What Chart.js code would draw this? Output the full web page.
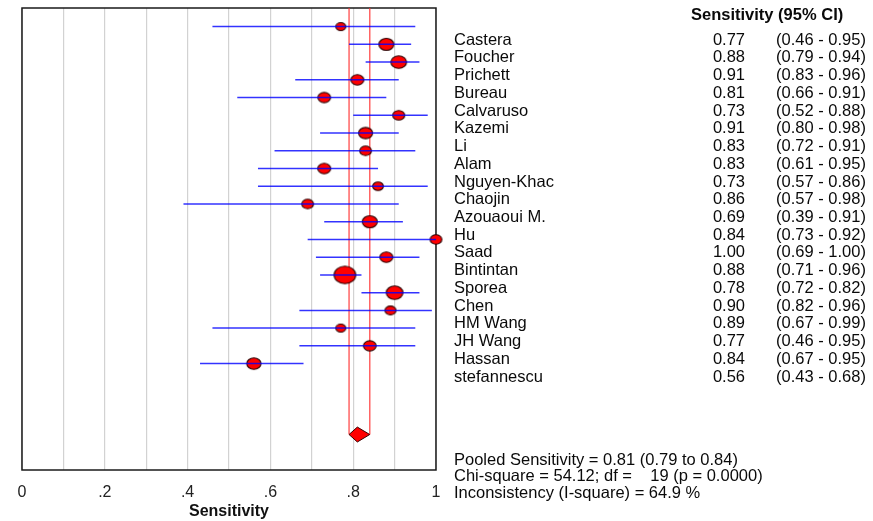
<!DOCTYPE html>
<html>
<head>
<meta charset="utf-8">
<script src="https://cdn.jsdelivr.net/npm/chart.js@4.4.0/dist/chart.umd.min.js"></script>
<style>
	body { margin: 0; background: #fff; }
	#wrap { position: relative; width: 873px; height: 521px; }
	#forest { position: absolute; left: 0; top: 0; }
	.t { position: absolute; font-family: "Liberation Sans", Arial, sans-serif; font-size: 16.5px; line-height: 18px; color: #0a0a0a; white-space: pre; }
	.b { font-weight: bold; }
	.r { text-align: right; }
</style>
</head>
<body>
<div id="wrap"><canvas id="forest" width="873" height="521"></canvas></div>
<script>
const studies = ["Castera", "Foucher", "Prichett", "Bureau", "Calvaruso", "Kazemi", "Li", "Alam", "Nguyen-Khac", "Chaojin",
	"Azouaoui M.", "Hu", "Saad", "Bintintan", "Sporea", "Chen", "HM Wang", "JH Wang", "Hassan", "stefannescu"];
const sensitivity = [0.77, 0.88, 0.91, 0.81, 0.73, 0.91, 0.83, 0.83, 0.73, 0.86, 0.69, 0.84, 1.00, 0.88, 0.78, 0.90, 0.89, 0.77, 0.84, 0.56];
const ciLow = [0.46, 0.79, 0.83, 0.66, 0.52, 0.80, 0.72, 0.61, 0.57, 0.57, 0.39, 0.73, 0.69, 0.71, 0.72, 0.82, 0.67, 0.46, 0.67, 0.43];
const ciHigh = [0.95, 0.94, 0.96, 0.91, 0.88, 0.98, 0.91, 0.95, 0.86, 0.98, 0.91, 0.92, 1.00, 0.96, 0.82, 0.96, 0.99, 0.95, 0.95, 0.68];
// relative study weight, shown as marker size
const weight = [10, 15, 15.7, 13, 12.7, 12, 14, 11.7, 13, 10.7, 11.7, 15, 11.7, 13, 21.7, 16.7, 11, 10, 12.7, 14.3];

const pooled = 0.81, pooledLow = 0.79, pooledHigh = 0.84;
const xTickLabels = ["0", ".2", ".4", ".6", ".8", "1"];
const summaryLines = [
	"Pooled Sensitivity = 0.81 (0.79 to 0.84)",
	"Chi-square = 54.12; df =    19 (p = 0.0000)",
	"Inconsistency (I-square) = 64.9 %"
];

const FONT = "'Liberation Sans', Arial, sans-serif";
const yMin = -0.05, yMax = 26, pooledRow = 24;

// ellipse markers
const markers = weight.map((w) => {
	const h = w * 0.8;
	const c = document.createElement("canvas");
	c.width = Math.ceil(w + 3);
	c.height = Math.ceil(h + 3);
	const g = c.getContext("2d");
	g.beginPath();
	g.ellipse(c.width / 2, c.height / 2, w / 2, h / 2, 0, 0, Math.PI * 2);
	g.fillStyle = "#ff0000";
	g.fill();
	g.lineWidth = 1.1;
	g.strokeStyle = "#2a0000";
	g.stroke();
	return c;
});

const ciData = [];
studies.forEach((s, i) => {
	ciData.push({ x: ciLow[i], y: i + 1 }, { x: ciHigh[i], y: i + 1 }, { x: null, y: null });
});

const frame = {
	id: "frame",
	beforeDatasetsDraw(chart) {
		const { ctx, chartArea: a } = chart;
		ctx.save();
		ctx.strokeStyle = "#1a1a1a";
		ctx.lineWidth = 1.5;
		ctx.strokeRect(a.left, a.top, a.right - a.left, a.bottom - a.top);
		ctx.restore();
	}
};

const chart = new Chart("forest", {
	type: "scatter",
	data: {
		datasets: [
			{
				type: "line",
				data: ciData,
				borderColor: "rgba(0,0,255,0.8)",
				borderWidth: 1.5,
				pointRadius: 0,
				spanGaps: false,
				order: 0,
			},
			{
				data: sensitivity.map((v, i) => ({ x: v, y: i + 1 })),
				pointStyle: (ctx) => markers[ctx.dataIndex],
				clip: false,
				order: 1,
			},
			{
				type: "line",
				data: [
					{ x: pooledLow, y: yMin }, { x: pooledLow, y: pooledRow }, { x: null, y: null },
					{ x: pooledHigh, y: yMin }, { x: pooledHigh, y: pooledRow }
				],
				borderColor: "rgba(255,50,50,0.75)",
				borderWidth: 1.5,
				pointRadius: 0,
				spanGaps: false,
				order: 2,
			},
			{
				type: "line",
				data: [
					{ x: pooledLow, y: pooledRow }, { x: pooled, y: pooledRow - 0.42 }, { x: pooledHigh, y: pooledRow },
					{ x: pooled, y: pooledRow + 0.42 }, { x: pooledLow, y: pooledRow }
				],
				borderColor: "#3a0000",
				borderWidth: 1,
				backgroundColor: "#ff0000",
				fill: "shape",
				pointRadius: 0,
				order: 1,
			},
		],
	},
	options: {
		responsive: false,
		animation: false,
		events: [],
		layout: { padding: { left: 22, right: 437, top: 8, bottom: 0 } },
		plugins: { legend: { display: false }, tooltip: { enabled: false } },
		scales: {
			x: {
				type: "linear",
				min: 0,
				max: 1,
				ticks: {
					stepSize: 0.1,
					autoSkip: false,
					maxRotation: 0,
					padding: 13,
					color: "#222",
					font: { family: FONT, size: 16 },
					callback: (v) => {
						const k = Math.round(v * 10);
						return k % 2 === 0 ? xTickLabels[k / 2] : "";
					},
				},
				grid: { color: "#d2d2d2", lineWidth: 1.2, drawTicks: false },
				border: { display: false },
				title: {
					display: true,
					text: "Sensitivity",
					color: "#111",
					font: { family: FONT, size: 16, weight: "bold" },
					padding: { top: 0, bottom: 0 },
				},
				afterFit: (s) => { s.height = 51; },
			},
			y: { display: false, reverse: true, min: yMin, max: yMax },
		},
	},
	plugins: [frame],
});

// right-hand table
const wrap = document.getElementById("wrap");
const addText = (txt, left, cy, cls, right) => {
	const d = document.createElement("div");
	d.className = "t " + (cls || "");
	d.textContent = txt;
	d.style.top = (cy - 9) + "px";
	d.style.left = left + "px";
	if (right !== undefined) {
		d.style.width = (right - left) + "px";
	}
	wrap.appendChild(d);
};

addText("Sensitivity (95% CI)", 691, 13.5, "b");
const yScale = chart.scales.y;
studies.forEach((s, i) => {
	const cy = yScale.getPixelForValue(i + 1) + 12;
	addText(s, 454, cy);
	addText(sensitivity[i].toFixed(2), 680, cy, "r", 745);
	addText("(" + ciLow[i].toFixed(2) + " - " + ciHigh[i].toFixed(2) + ")", 776, cy);
});
const summaryY = [458.5, 474.5, 491.5];
summaryLines.forEach((line, i) => addText(line, 454, summaryY[i]));
</script>
</body>
</html>
